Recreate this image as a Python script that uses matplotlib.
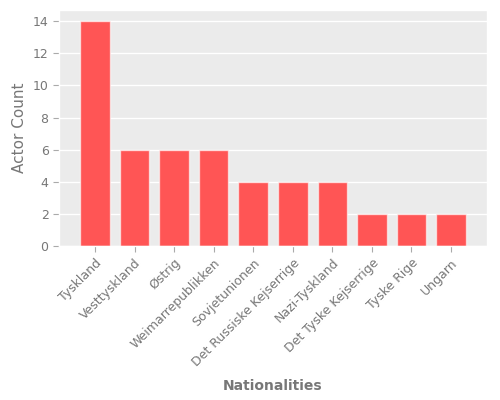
import matplotlib
matplotlib.use("Agg")
import matplotlib.pyplot as plt

plt.style.use("ggplot")

categories = ["Tyskland", "Vesttyskland", "Østrig", "Weimarrepublikken", "Sovjetunionen",
              "Det Russiske Kejserrige", "Nazi-Tyskland", "Det Tyske Kejserrige", "Tyske Rige", "Ungarn"]
counts = [14, 6, 6, 6, 4, 4, 4, 2, 2, 2]

fig = plt.figure(figsize=(5, 4), dpi=100)
ax = fig.add_axes([0.118, 0.385, 0.856, 0.59])
ax.set_facecolor("#EBEBEB")
ax.bar(range(len(categories)), counts, width=0.75, color="#FF5555",
       edgecolor=(1, 1, 1, 0.6), linewidth=1)
ax.set_xticks(range(len(categories)))
ax.set_xticklabels(categories, rotation=45, ha="right", rotation_mode="anchor", color="#777777", fontsize=9)
ax.tick_params(axis="both", labelcolor="#777777", labelsize=9, color="#AAAAAA", length=4)
ax.set_xlim(-0.91, 9.91)
ax.set_ylim(0, 14.7)
ax.set_yticks(range(0, 15, 2))
ax.grid(axis="x", visible=False)
ax.grid(axis="y", color="white", linewidth=1)
ax.set_ylabel("Actor Count", color="#777777", fontsize=11, labelpad=4)
ax.set_xlabel("Nationalities", color="#777777", fontsize=10, fontweight="bold", labelpad=7)
fig.savefig("out.png", dpi=100)
